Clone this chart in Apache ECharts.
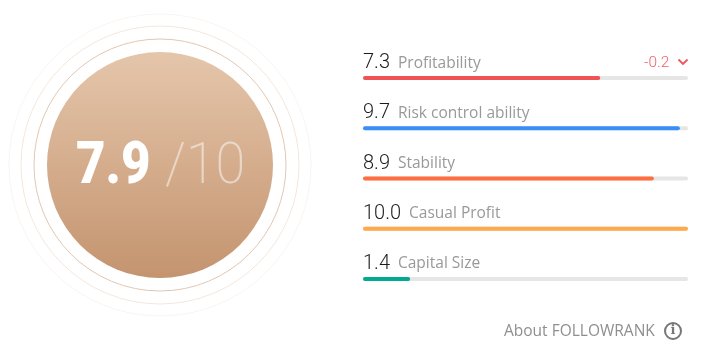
<!DOCTYPE html>
<html><head><meta charset="utf-8">
<style>html,body{margin:0;padding:0;background:#fff}#c{width:708px;height:358px}</style>
<script src="https://cdn.jsdelivr.net/npm/echarts@6/dist/echarts.min.js"></script>
</head><body><div id="c"></div>
<script>
var categories = ['Profitability','Risk control ability','Stability','Casual Profit','Capital Size'];
var scoreLabels = ['7.3','9.7','8.9','10.0','1.4'];
var barLengths = [7.3, 9.75, 8.95, 10.0, 1.45];
var barColors = ['#ef5356','#3a8ff7','#ff6e40','#ffa94d','#00ab8f'];
var totalScore = '7.9';
var totalMax = '/10';
var deltaText = '-0.2';
var aboutText = 'About FOLLOWRANK';

var chart = echarts.init(document.getElementById('c'), null, {renderer:'canvas'});
var cx = 160, cy = 165;
function ring(r, color){
  return {type:'circle', shape:{cx:cx,cy:cy,r:r}, style:{fill:'none',stroke:color,lineWidth:1}, silent:true};
}
chart.setOption({
  animation:false,
  grid:{left:363, top:53, width:325, height:251, containLabel:false},
  xAxis:{type:'value', min:0, max:10, show:false},
  yAxis:{type:'category', data:categories, inverse:true, show:false},
  series:[{
    type:'bar',
    barWidth:4,
    showBackground:true,
    backgroundStyle:{color:'#e6e6e6', borderRadius:2},
    itemStyle:{borderRadius:2},
    data:barLengths.map(function(v,i){return {value:v,itemStyle:{color:barColors[i]}};}),
    label:{
      show:true,
      position:[0,-23],
      formatter:function(p){
        return '{v|'+scoreLabels[p.dataIndex]+'}{n|'+p.name+'}';
      },
      rich:{
        v:{fontFamily:'Roboto',fontWeight:300,fontSize:20,color:'#1c1c1c',padding:[0,8,0,0]},
        n:{fontFamily:'"Open Sans"',fontSize:15.5,color:'#999999'}
      }
    }
  }],
  graphic:[
    ring(151,'#f9f5f2'),
    ring(139,'#f3e7de'),
    ring(126,'#e2c7b2'),
    {type:'circle', shape:{cx:cx,cy:cy,r:113}, silent:true,
     style:{fill:new echarts.graphic.LinearGradient(0,0,0,1,[{offset:0,color:'#e5c6ab'},{offset:1,color:'#c4946f'}])}},
    {type:'text', x:76, y:168, scaleX:0.85, silent:true,
     style:{text:totalScore,fontFamily:'Roboto',fontWeight:900,fontSize:60,fill:'#ffffff',textVerticalAlign:'middle'}},
    {type:'text', x:165, y:168, scaleX:0.93, silent:true,
     style:{text:totalMax,fontFamily:'Roboto',fontWeight:200,fontSize:58,fill:'rgba(255,255,255,0.5)',textVerticalAlign:'middle'}},
    {type:'text', x:644, y:63, silent:true,
     style:{text:deltaText,fontFamily:'Roboto',fontWeight:300,fontSize:15.5,fill:'#f0646a',textVerticalAlign:'middle'}},
    {type:'polyline', silent:true, shape:{points:[[678.5,59.5],[683,64],[687.5,59.5]]},
     style:{fill:'none',stroke:'#ef5356',lineWidth:1.8}},
    {type:'text', x:504, y:332, silent:true,
     style:{text:aboutText,fontFamily:'"Open Sans"',fontSize:15.5,fill:'#8f8f8f',textVerticalAlign:'middle'}},
    {type:'circle', silent:true, shape:{cx:673,cy:331,r:8}, style:{fill:'none',stroke:'#777777',lineWidth:2}},
    {type:'text', x:673, y:331, silent:true,
     style:{text:'i',fontFamily:'"DejaVu Serif"',fontWeight:700,fontSize:13,fill:'#777777',textAlign:'center',textVerticalAlign:'middle'}}
  ]
});
</script></body></html>
